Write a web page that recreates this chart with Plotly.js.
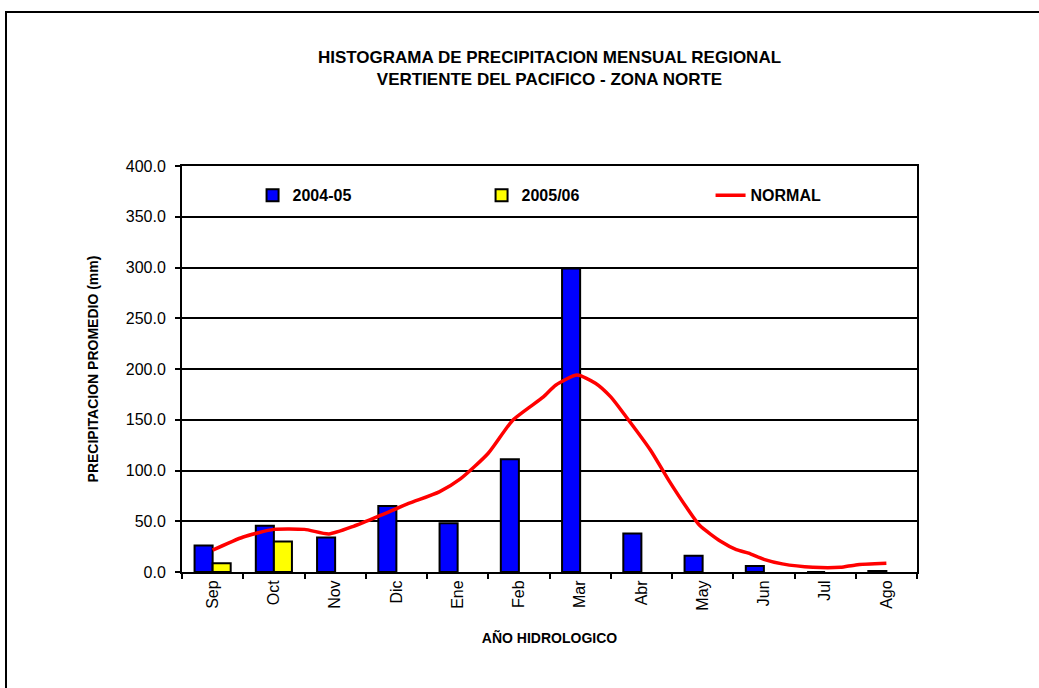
<!DOCTYPE html>
<html><head><meta charset="utf-8">
<script src="https://cdn.plot.ly/plotly-3.0.1.min.js"></script>
<style>
html,body{margin:0;padding:0;background:#fff;}
#wrap{position:relative;width:1039px;height:688px;overflow:hidden;}
#chart{width:1039px;height:688px;}
#frame{position:absolute;left:5px;top:11px;width:1100px;height:800px;border-left:2px solid #000;border-top:2px solid #000;pointer-events:none;}
</style>
</head><body>
<div id="wrap"><div id="chart"></div><div id="frame"></div></div>
<script>
// Categories (hydrological year months)
const months = ["Sep","Oct","Nov","Dic","Ene","Feb","Mar","Abr","May","Jun","Jul","Ago"];
// Series values (mm)
const values0405 = [26, 45.5, 34, 65, 48, 111, 299, 38, 16, 6, 0, 1];
const values0506 = [8.5, 30, null, null, null, null, null, null, null, null, null, null];
// NORMAL curve (x = month index position, y = mm)
const normalPos = [0, 0.5, 1.0, 1.5, 1.9, 2.3, 2.75, 3.2, 3.7, 4.05, 4.5, 4.9, 5.4, 5.6, 5.95, 6.25, 6.5, 6.75, 7.15, 7.45, 7.75, 7.95, 8.3, 8.55, 8.75, 9.0, 9.3, 9.8, 10.25, 10.5, 11.0];
const normalVal = [21.5, 34.5, 42, 42, 37.5, 45, 56, 67.5, 79, 92, 117, 149.5, 172.5, 184, 194, 186, 172.5, 153, 120, 90, 62.5, 46, 30, 22, 18.5, 12.5, 8, 4.6, 4.6, 7, 8.5];
const seriesNames = ["2004-05", "2005/06", "NORMAL"];
const yTicks = [0, 50, 100, 150, 200, 250, 300, 350, 400];

const FONT = "Liberation Sans, Arial, sans-serif";

const traces = [
  {type:"bar", name:seriesNames[0], x:months, y:values0405,
   marker:{color:"#0000FF", line:{color:"#000000", width:2}}},
  {type:"bar", name:seriesNames[1], x:months, y:values0506,
   marker:{color:"#FFFF00", line:{color:"#000000", width:2}}},
  {type:"scatter", mode:"lines", name:seriesNames[2], x:normalPos, y:normalVal,
   xaxis:"x2", yaxis:"y",
   line:{color:"#FF0000", width:3.5, shape:"spline", smoothing:0.6}}
];

const layout = {
  width:1039, height:688,
  paper_bgcolor:"#FFFFFF", plot_bgcolor:"#FFFFFF",
  margin:{l:182, r:122, t:166, b:116},
  font:{family:FONT, color:"#000000"},
  title:{text:"HISTOGRAMA DE PRECIPITACION MENSUAL REGIONAL<br>VERTIENTE DEL PACIFICO - ZONA NORTE",
         font:{family:FONT, size:17, weight:"bold", color:"#000"},
         xref:"paper", x:0.5, xanchor:"center", yref:"container", y:1-63/688, yanchor:"top"},
  barmode:"group", bargap:0.41, bargroupgap:0,
  showlegend:true,
  legend:{orientation:"h", x:0.096, xanchor:"left", y:0.928, yanchor:"middle",
          font:{family:FONT, size:16, weight:"bold", color:"#000"},
          bgcolor:"rgba(0,0,0,0)", entrywidth:184, entrywidthmode:"pixels", traceorder:"normal"},
  xaxis:{type:"category", range:[-0.5,11.5], tickson:"boundaries", ticks:"outside", ticklen:5, tickwidth:2,
         tickcolor:"#000", showline:true, linecolor:"#000", linewidth:2, mirror:true, showgrid:false,
         tickangle:-90, tickfont:{family:FONT, size:16, color:"#000"},
         title:{text:"AÑO HIDROLOGICO", font:{family:FONT, size:14, weight:"bold", color:"#000"}, standoff:24},
         fixedrange:true},
  xaxis2:{overlaying:"x", range:[-0.5,11.5], visible:false, showgrid:false, zeroline:false, fixedrange:true},
  yaxis:{range:[0,400], tickvals:yTicks, tickformat:".1f", ticks:"outside", ticklen:5, tickwidth:2, tickcolor:"#000",
         showline:true, linecolor:"#000", linewidth:2, mirror:true,
         showgrid:true, gridcolor:"#000", gridwidth:2, zeroline:false,
         tickfont:{family:FONT, size:16, color:"#000"}, ticklabelstandoff:6,
         title:{text:"PRECIPITACION PROMEDIO (mm)", font:{family:FONT, size:14, weight:"bold", color:"#000"}, standoff:24},
         fixedrange:true}
};

Plotly.newPlot("chart", traces, layout, {displayModeBar:false, staticPlot:true});
</script>
</body></html>
